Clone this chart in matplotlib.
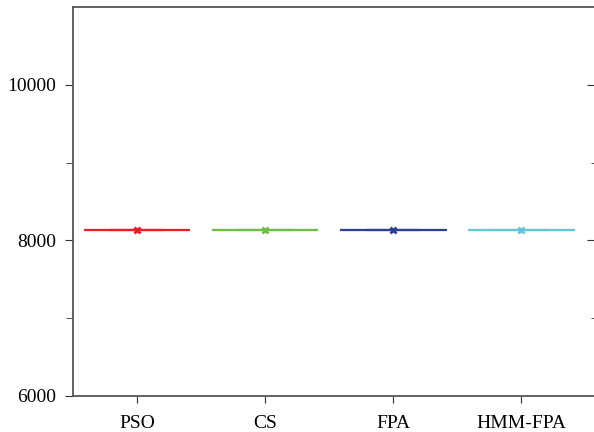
import matplotlib
matplotlib.use("Agg")
import matplotlib.pyplot as plt
from matplotlib.ticker import FixedLocator

# best objective values per algorithm (all runs converged to the same value)
algorithms = ["PSO", "CS", "FPA", "HMM-FPA"]
pso_runs = [8140, 8140, 8140, 8140, 8140]
cs_runs = [8140, 8140, 8140, 8140, 8140]
fpa_runs = [8140, 8140, 8140, 8140, 8140]
hmm_fpa_runs = [8140, 8140, 8140, 8140, 8140]
colors = ["#ED1C24", "#6DBE45", "#2E3F95", "#63C7D8"]

plt.rcParams["font.family"] = ["Liberation Serif", "DejaVu Serif"]

fig = plt.figure(figsize=(5.94, 4.32), dpi=100)
ax = fig.add_axes([73 / 594, 1 - 396 / 432, 521 / 594, 389 / 432])

data = [pso_runs, cs_runs, fpa_runs, hmm_fpa_runs]
for i, (runs, c) in enumerate(zip(data, colors)):
    ax.boxplot([runs], positions=[i + 1], widths=0.82, showmeans=True,
               showfliers=False,
               boxprops=dict(color=c, linewidth=1.5),
               medianprops=dict(color=c, linewidth=1.5),
               whiskerprops=dict(color=c, linewidth=1.5),
               capprops=dict(color=c, linewidth=1.5),
               meanprops=dict(marker="x", markeredgecolor=c, markerfacecolor=c,
                              markersize=4, markeredgewidth=2))

ax.set_xlim(0.5, 4.57)
ax.set_ylim(6000, 11000)
ax.set_xticks(range(1, 5))
ax.set_xticklabels(algorithms)
ax.set_yticks([6000, 8000, 10000])
ax.yaxis.set_minor_locator(FixedLocator([7000, 9000]))

for side in ["left", "bottom", "top"]:
    ax.spines[side].set_color("#555555")
    ax.spines[side].set_linewidth(1.3)
ax.spines["right"].set_visible(False)

ax.tick_params(axis="both", which="both", labelsize=14, color="#333333")
ax.tick_params(axis="x", direction="out", length=5, top=False, pad=9)
ax.tick_params(axis="y", which="major", direction="out", length=6, right=False, pad=6)
ax.tick_params(axis="y", which="minor", direction="out", length=5, right=False)

# short inward ticks on the right edge
ax2 = ax.twinx()
ax2.set_ylim(ax.get_ylim())
ax2.set_yticks([8000, 10000])
ax2.yaxis.set_minor_locator(FixedLocator([7000, 9000]))
ax2.tick_params(axis="y", which="major", direction="in", length=5, labelright=False, color="#333333")
ax2.tick_params(axis="y", which="minor", direction="in", length=2, color="#333333")
for s in ax2.spines.values():
    s.set_visible(False)

fig.savefig("out.png", dpi=100)
